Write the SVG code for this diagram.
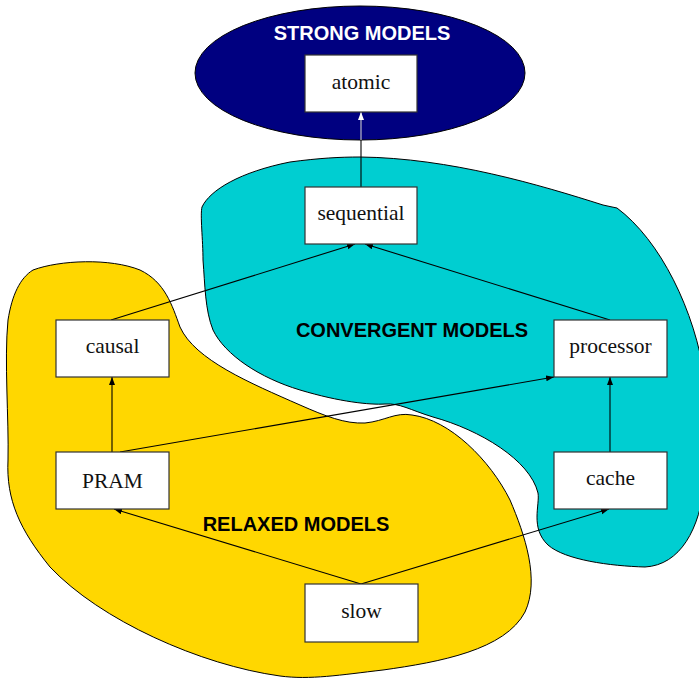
<svg xmlns="http://www.w3.org/2000/svg" width="699" height="678" viewBox="0 0 699 678">
<style>
.blob{stroke:#000;stroke-width:1}
.box rect{fill:#fff;stroke:#333;stroke-width:1.2}
.box text{font-family:"Liberation Serif","Times New Roman",serif;font-size:21.5px;fill:#111;text-anchor:middle}
.title{font-family:"Liberation Sans",Arial,sans-serif;font-weight:bold;font-size:20px;text-anchor:middle}
.conn line{stroke:#000;stroke-width:1.1;fill:none}
</style>
<defs>
<marker id="ah" markerUnits="userSpaceOnUse" markerWidth="10" markerHeight="8" refX="8" refY="3" orient="auto"><path d="M0,0 L8,3 L0,6 z" fill="#000"/></marker>
<marker id="ahw" markerUnits="userSpaceOnUse" markerWidth="10" markerHeight="8" refX="8" refY="3" orient="auto"><path d="M0,0 L8,3 L0,6 z" fill="#fff"/></marker>
</defs>
<g id="relaxed-region">
<path class="blob" fill="#FFD700" d="M 33 270 C 60 260, 110 258, 140 270 C 165 282, 172 305, 180 327 C 195 360, 250 383, 300 405 C 325 416, 345 424, 365 423 C 385 421, 395 412, 412 415 C 450 420, 490 460, 510 500 C 525 535, 540 580, 525 612 C 505 650, 440 662, 383 670 C 340 675, 310 680, 280 676 C 200 665, 100 620, 50 567 C 20 530, 6 500, 8 460 C 9 420, 4 360, 8 320 C 12 295, 20 278, 33 270 Z"/>
<text class="title" x="296" y="531" fill="#000">RELAXED MODELS</text>
</g>
<g id="convergent-region">
<path class="blob" fill="#00CED1" d="M 360 157 C 450 158, 540 185, 603 205 Q 612 207, 617 208 C 660 240, 695 310, 705 380 L 705 480 C 700 530, 680 565, 645 567 C 610 566, 565 560, 548 545 C 530 528, 540 505, 538 493 C 530 460, 480 430, 433 417 C 410 410, 400 403, 385 404 C 370 405, 340 402, 300 390 C 260 378, 225 355, 213 330 C 205 310, 205 285, 203 260 C 203 240, 200 215, 202 207 C 210 190, 240 172, 290 162 C 320 158, 340 157, 360 157 Z"/>
<text class="title" x="412" y="337" fill="#000">CONVERGENT MODELS</text>
</g>
<g id="strong-region">
<ellipse class="blob" cx="360" cy="73" rx="165" ry="67" fill="#000080"/>
<text class="title" x="362" y="40" fill="#fff">STRONG MODELS</text>
</g>
<g id="connectors" class="conn">
<line x1="361" y1="187" x2="361" y2="140"/>
<line x1="361" y1="140" x2="361" y2="112" style="stroke:#ccc" marker-end="url(#ahw)"/>
<line x1="111" y1="320" x2="355" y2="244" marker-end="url(#ah)"/>
<line x1="610" y1="320" x2="365" y2="244" marker-end="url(#ah)"/>
<line x1="112" y1="452" x2="112" y2="377" marker-end="url(#ah)"/>
<line x1="120" y1="452" x2="554" y2="377" marker-end="url(#ah)"/>
<line x1="610" y1="452" x2="610" y2="377" marker-end="url(#ah)"/>
<line x1="361" y1="584" x2="114" y2="509" marker-end="url(#ah)"/>
<line x1="361" y1="584" x2="609" y2="509" marker-end="url(#ah)"/>
</g>
<g id="atomic" class="box"><rect x="305" y="55" width="112" height="57"/><text x="361" y="88.5">atomic</text></g>
<g id="sequential" class="box"><rect x="305" y="187" width="112" height="57"/><text x="361" y="220">sequential</text></g>
<g id="causal" class="box"><rect x="56" y="320" width="113" height="57"/><text x="112.5" y="352.5">causal</text></g>
<g id="processor" class="box"><rect x="554" y="320" width="113" height="57"/><text x="610.5" y="352.5">processor</text></g>
<g id="PRAM" class="box"><rect x="56" y="452" width="113" height="57"/><text x="112.5" y="488">PRAM</text></g>
<g id="cache" class="box"><rect x="554" y="452" width="113" height="57"/><text x="610.5" y="485">cache</text></g>
<g id="slow" class="box"><rect x="305" y="584" width="113" height="58"/><text x="361.5" y="617.5">slow</text></g>
</svg>
